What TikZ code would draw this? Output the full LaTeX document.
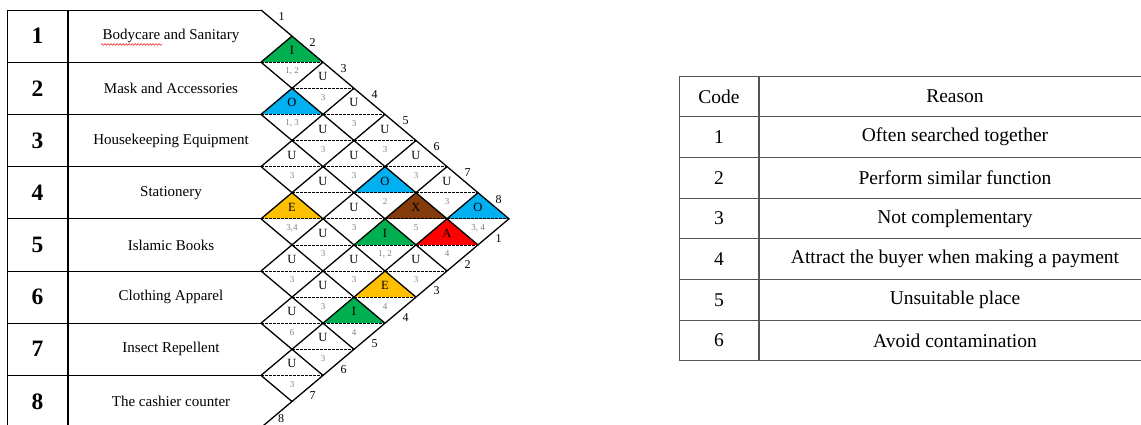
\documentclass[tikz,border=0pt]{standalone}
\usepackage{fontspec}
\setmainfont{Liberation Serif}
\usetikzlibrary{decorations.pathmorphing}
\definecolor{relI}{RGB}{0,176,80}
\definecolor{relO}{RGB}{0,176,240}
\definecolor{relE}{RGB}{255,192,0}
\definecolor{relX}{RGB}{132,60,12}
\definecolor{relA}{RGB}{255,0,0}
\definecolor{rule}{RGB}{85,85,85}

\begin{document}
\begin{tikzpicture}[x=1pt,y=-1pt,
  grid/.style={line width=1.3pt},
  half/.style={dashed,line width=0.7pt,dash pattern=on 2.5pt off 1.5pt},
  tbl/.style={line width=0.9pt},
  prodnum/.style={font=\fontsize{23.5}{26}\selectfont\bfseries},
  prodname/.style={font=\fontsize{15}{17}\selectfont},
  rel/.style={font=\fontsize{12.5}{14}\selectfont,inner sep=0pt},
  why/.style={font=\fontsize{9}{10}\selectfont,text=gray,inner sep=0pt},
  diaglbl/.style={font=\fontsize{12}{14}\selectfont,inner sep=0pt},
  cell/.style={font=\fontsize{19.5}{22}\selectfont}]
  \useasboundingbox (0,0) rectangle (1141,425);
  \clip (0,0) rectangle (1141,425);

  % relationship cells: i/j/letter/reason/colour
  \foreach \i/\j/\r/\c/\col in {1/2/I/{1, 2}/relI, 1/3/U/3/white, 1/4/U/3/white,
      1/5/U/3/white, 1/6/U/3/white, 1/7/U/3/white, 1/8/O/{3, 4}/relO,
      2/3/O/{1, 3}/relO, 2/4/U/3/white, 2/5/U/3/white, 2/6/O/2/relO,
      2/7/X/5/relX, 2/8/A/4/relA, 3/4/U/3/white, 3/5/U/{}/white,
      3/6/U/3/white, 3/7/I/{1, 2}/relI, 3/8/U/3/white, 4/5/E/{3,4}/relE,
      4/6/U/3/white, 4/7/U/3/white, 4/8/E/4/relE, 5/6/U/3/white,
      5/7/U/3/white, 5/8/I/4/relI, 6/7/U/6/white, 6/8/U/3/white,
      7/8/U/3/white} {
    \pgfmathsetmacro{\cx}{261+31*(\j-\i)}
    \pgfmathsetmacro{\cy}{10+26.1*(\i+\j-1)}
    \fill[\col] (\cx-31,\cy) -- (\cx,\cy-26.1) -- (\cx+31,\cy) -- cycle;
    \draw[half] (\cx-31,\cy) -- (\cx+31,\cy);
    \node[rel] (r\i\j) at (\cx,\cy-11.5) {\r};
    \node[why] (w\i\j) at (\cx,\cy+9) {\c};
  }

  % diamond grid
  \draw[grid] (261,10) -- (509,218.8) -- (261,427.6);
  \foreach \k in {1,...,7} {
    \draw[grid] (261,10+52.2*\k) -- ++(248-31*\k,208.8-26.1*\k);
    \draw[grid] (261+31*\k,10+26.1*\k) -- (261,10+52.2*\k);
    }
  \foreach \k in {1,...,7} {
    \node[diaglbl] (top\k) at (266+31*\k-15.5,3+26.1*\k-13.05) {\k};
    \node[diaglbl] (bot\k) at (514-31*\k+15.5,225.8+26.1*\k-13.05) {\k};
  }
  \node[diaglbl] (top8) at (498.5,199.5) {8};
  \node[diaglbl] (bot8) at (281,418.5) {8};

  % department table
  \foreach \k in {0,...,8}
    \draw[tbl] (7,10+52.2*\k) -- (261,10+52.2*\k);
  \draw[tbl] (7,10) -- (7,430);
  \draw[line width=1.8pt] (68,10) -- (68,430);
  \node[prodnum] (n1) at (37.5,36.1) {1};
  \node[prodnum] (n2) at (37.5,88.3) {2};
  \node[prodnum] (n3) at (37.5,140.5) {3};
  \node[prodnum] (n4) at (37.5,192.7) {4};
  \node[prodnum] (n5) at (37.5,244.9) {5};
  \node[prodnum] (n6) at (37.5,297.1) {6};
  \node[prodnum] (n7) at (37.5,349.3) {7};
  \node[prodnum] (n8) at (37.5,401.5) {8};
  \node[prodname] (d1) at (171,36.1) {Bodycare and Sanitary};
  \node[prodname] (d2) at (171,88.3) {Mask and Accessories};
  \node[prodname] (d3) at (171,140.5) {Housekeeping Equipment};
  \node[prodname] (d4) at (171,192.7) {Stationery};
  \node[prodname] (d5) at (171,244.9) {Islamic Books};
  \node[prodname] (d6) at (171,297.1) {Clothing Apparel};
  \node[prodname] (d7) at (171,349.3) {Insect Repellent};
  \node[prodname] (d8) at (171,401.5) {The cashier counter};
  \draw[red,line width=0.5pt,decorate,decoration={snake,amplitude=0.8pt,segment length=3pt}]
    (d1.south west) ++(2,-2) -- ++(61,0);

  % reason table
  \foreach \k in {0,...,7}
    \draw[rule,tbl] (679,76+40.7*\k) -- (1141,76+40.7*\k);
  \draw[rule,tbl] (679,76) -- (679,360.9);
  \draw[rule,line width=1.4pt] (759,76) -- (759,360.9);
  \node[cell] (code0) at (719,96.4) {Code};
  \node[cell] (why0) at (955,96.4) {Reason};
  \node[cell] (code1) at (719,137.1) {1};
  \node[cell] (why1) at (955,137.1) {Often searched together};
  \node[cell] (code2) at (719,177.8) {2};
  \node[cell] (why2) at (955,177.8) {Perform similar function};
  \node[cell] (code3) at (719,218.5) {3};
  \node[cell] (why3) at (955,218.5) {Not complementary};
  \node[cell] (code4) at (719,259.2) {4};
  \node[cell] (why4) at (955,259.2) {Attract the buyer when making a payment};
  \node[cell] (code5) at (719,299.9) {5};
  \node[cell] (why5) at (955,299.9) {Unsuitable place};
  \node[cell] (code6) at (719,340.6) {6};
  \node[cell] (why6) at (955,340.6) {Avoid contamination};
\end{tikzpicture}
\end{document}
